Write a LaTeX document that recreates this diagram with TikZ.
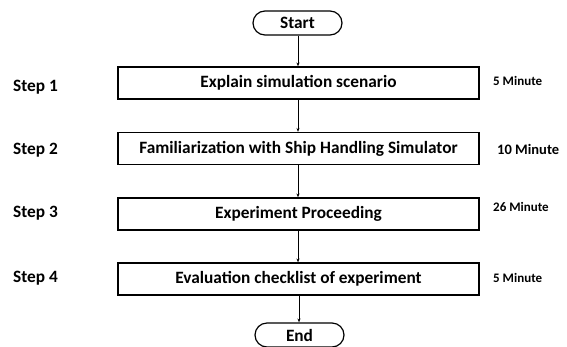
\documentclass[tikz,border=0pt]{standalone}
\usepackage{fontspec}
\setmainfont{Carlito}
\usetikzlibrary{arrows.meta}
\begin{document}
\begin{tikzpicture}[x=1pt,y=-1pt,
  stepbox/.style={draw,line width=1.2pt,minimum width=361pt,minimum height=32pt,
    inner sep=0pt,font=\bfseries\fontsize{17.3}{20}\selectfont},
  terminal/.style={draw,line width=1.2pt,rounded corners=12pt,minimum width=89pt,
    minimum height=24pt,inner sep=0pt,font=\bfseries\fontsize{17.3}{20}\selectfont},
  steplabel/.style={anchor=west,inner sep=0pt,font=\bfseries\fontsize{17.3}{20}\selectfont},
  timelabel/.style={anchor=west,inner sep=0pt,font=\bfseries\fontsize{13}{15}\selectfont},
  flow/.style={-{Stealth[length=4pt,width=3pt]},line width=0.7pt}]
\useasboundingbox (0,0) rectangle (567,346);
\node[terminal] (start) at (297.5,23) {Start};
\node[stepbox] (s1) at (298.5,83) {Explain simulation scenario};
\node[stepbox] (s2) at (298.5,148.5) {Familiarization with Ship Handling Simulator};
\node[stepbox] (s3) at (298.5,214) {Experiment Proceeding};
\node[stepbox] (s4) at (298.5,279) {Evaluation checklist of experiment};
\node[terminal] (end) at (299.5,335) {End};
\node[steplabel] (l1) at (13,87) {Step 1};
\node[steplabel] (l2) at (13,150) {Step 2};
\node[steplabel] (l3) at (13,213) {Step 3};
\node[steplabel] (l4) at (13,278) {Step 4};
\node[timelabel] (t1) at (493,81) {5 Minute};
\node[timelabel,font=\bfseries\fontsize{14.5}{17}\selectfont] (t2) at (497,149) {10 Minute};
\node[timelabel] (t3) at (493,207) {26 Minute};
\node[timelabel] (t4) at (493,278) {5 Minute};
\draw[flow] (start.south -| 298,0) -- (s1.north -| 298,0);
\draw[flow] (s1.south -| 298,0) -- (s2.north -| 298,0);
\draw[flow] (s2.south -| 298,0) -- (s3.north -| 298,0);
\draw[flow] (s3.south -| 298,0) -- (s4.north -| 298,0);
\draw[flow] (s4.south -| 299,0) -- (end.north -| 299,0);
\end{tikzpicture}
\end{document}
